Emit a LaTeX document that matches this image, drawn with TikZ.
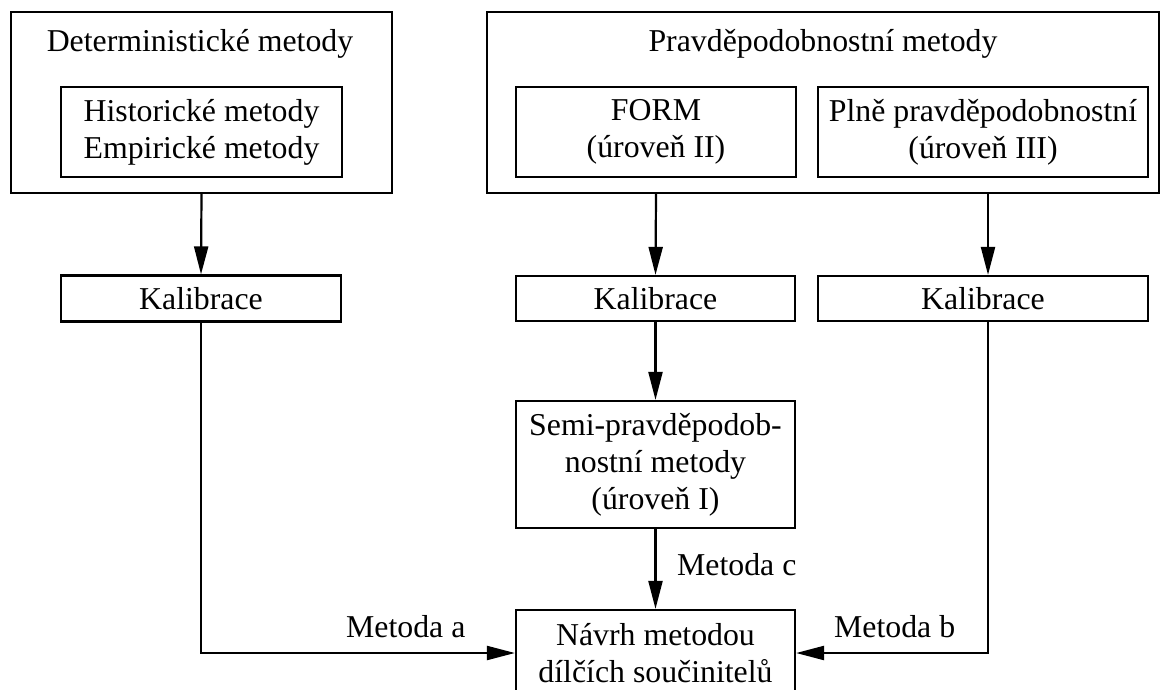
\documentclass[tikz,border=0pt]{standalone}
\usepackage{fontspec}
\setmainfont{Liberation Serif}
\usetikzlibrary{arrows.meta}
\newcommand\mainsize{\fontsize{31.8}{37}\selectfont}
\tikzset{
  box/.style={draw, line width=2.2pt, inner sep=0pt, align=center, font=\mainsize},
  txt/.style={inner sep=0pt, font=\mainsize},
  flow/.style={line width=2.2pt, -{Triangle[length=28pt,width=14pt]}}
}
\begin{document}
\begin{tikzpicture}[x=1pt, y=-1pt]
  \useasboundingbox (0,0) rectangle (1161,690);
  \clip (0,0) rectangle (1161,690);

  % deterministic group
  \node[box, minimum width=381pt, minimum height=181pt] (det) at (201.5,102.5) {};
  \node[txt, anchor=base] (dettitle) at (200,52) {Deterministické metody};
  \node[box, minimum width=281pt, minimum height=90pt] (hist) at (201.5,132)
    {Historické metody\\Empirické metody};

  % probabilistic group
  \node[box, minimum width=672pt, minimum height=181pt] (prob) at (823,102.5) {};
  \node[txt, anchor=base] (probtitle) at (823,52) {Pravděpodobnostní metody};
  \node[box, minimum width=280pt, minimum height=90pt] (form) at (656,132)
    {FORM\\(úroveň II)};
  \node[box, minimum width=330pt, minimum height=90pt] (full) at (983,132)
    {Plně pravděpodobnostní\\(úroveň III)};

  % calibration row
  \node[box, minimum width=280pt, minimum height=46pt] (kal1) at (201,298.5) {Kalibrace};
  \node[box, minimum width=279pt, minimum height=45pt] (kal2) at (655.5,298.5) {Kalibrace};
  \node[box, minimum width=330pt, minimum height=45pt] (kal3) at (983,298.5) {Kalibrace};

  % semi-probabilistic and partial factor design
  \node[box, minimum width=279pt, minimum height=127pt] (semi) at (655.5,464.5)
    {Semi-pravděpodob-\\nostní metody\\(úroveň I)};
  \node[box, minimum width=279pt, minimum height=86pt] (navrh) at (655.5,653)
    {Návrh metodou\\dílčích součinitelů};

  % connectors
  \draw[flow] (det.south) -- (kal1.north);
  \draw[flow] (prob.south -| form.south) -- (kal2.north);
  \draw[flow] ([xshift=5pt]prob.south -| full.south) -- ([xshift=5pt]kal3.north);
  \draw[flow] (kal2.south) -- (semi.north);
  \draw[flow] (semi.south) -- (navrh.north);
  \draw[flow] (kal1.south) |- (navrh.west);
  \draw[flow] ([xshift=5pt]kal3.south) |- (navrh.east);

  % connector labels
  \node[txt, anchor=base west] (lc) at (677,575) {Metoda c};
  \node[txt, anchor=base west] (la) at (346,637) {Metoda a};
  \node[txt, anchor=base west] (lb) at (834,637) {Metoda b};
\end{tikzpicture}
\end{document}
